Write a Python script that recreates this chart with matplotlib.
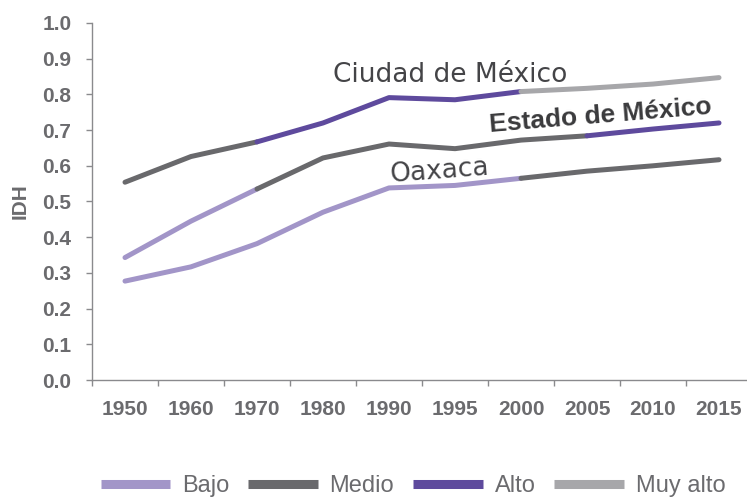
import matplotlib
matplotlib.use("Agg")
import matplotlib.pyplot as plt
from matplotlib.lines import Line2D

years = ["1950", "1960", "1970", "1980", "1990", "1995", "2000", "2005", "2010", "2015"]
yticks = [0.0, 0.1, 0.2, 0.3, 0.4, 0.5, 0.6, 0.7, 0.8, 0.9, 1.0]

cdmx = [0.554, 0.626, 0.667, 0.720, 0.791, 0.785, 0.808, 0.817, 0.829, 0.847]
edomex = [0.343, 0.445, 0.535, 0.622, 0.661, 0.648, 0.672, 0.684, 0.703, 0.720]
oaxaca = [0.277, 0.317, 0.382, 0.470, 0.538, 0.545, 0.565, 0.585, 0.600, 0.617]

# development level of each segment (between consecutive years)
cdmx_levels = ["Medio", "Medio", "Alto", "Alto", "Alto", "Alto", "Muy alto", "Muy alto", "Muy alto"]
edomex_levels = ["Bajo", "Bajo", "Medio", "Medio", "Medio", "Medio", "Medio", "Alto", "Alto"]
oaxaca_levels = ["Bajo", "Bajo", "Bajo", "Bajo", "Bajo", "Bajo", "Medio", "Medio", "Medio"]

levels = ["Bajo", "Medio", "Alto", "Muy alto"]
level_colors = {"Bajo": "#A295C8", "Medio": "#69696C", "Alto": "#5E4A9D", "Muy alto": "#A7A7AA"}

tick_color = "#6B6B6E"
lw = 3.6

fig = plt.figure(figsize=(7.47, 4.99), dpi=100)
ax = fig.add_axes([92 / 747, 119 / 499, 660 / 747, 357 / 499])

x = list(range(len(years)))


def draw_series(vals, seg_levels):
    start = 0
    n = len(seg_levels)
    while start < n:
        end = start
        while end + 1 < n and seg_levels[end + 1] == seg_levels[start]:
            end += 1
        xs = x[start:end + 2]
        ys = vals[start:end + 2]
        ax.plot(xs, ys, color=level_colors[seg_levels[start]], lw=lw,
                solid_capstyle="round", solid_joinstyle="round", zorder=3)
        start = end + 1


draw_series(oaxaca, oaxaca_levels)
draw_series(edomex, edomex_levels)
draw_series(cdmx, cdmx_levels)

ax.set_xlim(-0.5, len(years) - 0.5)
ax.set_ylim(0, 1.0)
ax.set_yticks(yticks)
ax.set_yticklabels([f"{v:.1f}" for v in yticks])
ax.set_xticks(x)
ax.set_xticklabels(years)
ax.set_xticks([i - 0.5 for i in range(len(years) + 1)], minor=True)

for s in ["top", "right"]:
    ax.spines[s].set_visible(False)
ax.spines["left"].set_color("#8A8A8D")
ax.spines["bottom"].set_color("#8A8A8D")
ax.spines["left"].set_linewidth(1.0)
ax.spines["bottom"].set_linewidth(1.0)

ax.tick_params(axis="y", length=4.3, width=1, color="#8A8A8D", pad=10.5,
               labelsize=15, labelcolor=tick_color)
ax.tick_params(axis="x", which="major", length=0, pad=14.5,
               labelsize=15, labelcolor=tick_color)
ax.tick_params(axis="x", which="minor", length=4.3, width=1, color="#8A8A8D")
for lab in ax.get_xticklabels() + ax.get_yticklabels():
    lab.set_fontweight("bold")
    lab.set_family(["Liberation Sans", "DejaVu Sans"])

ax.set_ylabel("IDH", fontsize=15, fontweight="bold", color=tick_color,
              family=["Liberation Sans", "DejaVu Sans"], labelpad=9)

plain = ["DejaVu Sans"]
ax.text(4.92, 0.853, "Ciudad de México", fontsize=19, color="#444447",
        family=plain, fontweight="normal", ha="center", va="center")
ax.text(7.2, 0.740, "Estado de México", fontsize=19, color="#3A3A3C",
        family=["Liberation Sans", "DejaVu Sans"], fontweight="bold",
        ha="center", va="center", rotation=4.7, rotation_mode="anchor")
ax.text(4.77, 0.585, "Oaxaca", fontsize=19, color="#444447",
        family=plain, fontweight="normal", ha="center", va="center",
        rotation=4.3, rotation_mode="anchor")

handles = [Line2D([0], [0], color=level_colors[l], lw=6.5, solid_capstyle="butt") for l in levels]
leg = fig.legend(handles, levels, loc="center", bbox_to_anchor=(413 / 747, 1 - 486 / 499),
                 ncol=4, frameon=False, handlelength=2.95, handletextpad=0.5,
                 columnspacing=0.8, prop={"family": ["Liberation Sans", "DejaVu Sans"], "size": 17})
for t in leg.get_texts():
    t.set_color(tick_color)

fig.savefig("out.png", dpi=100)
